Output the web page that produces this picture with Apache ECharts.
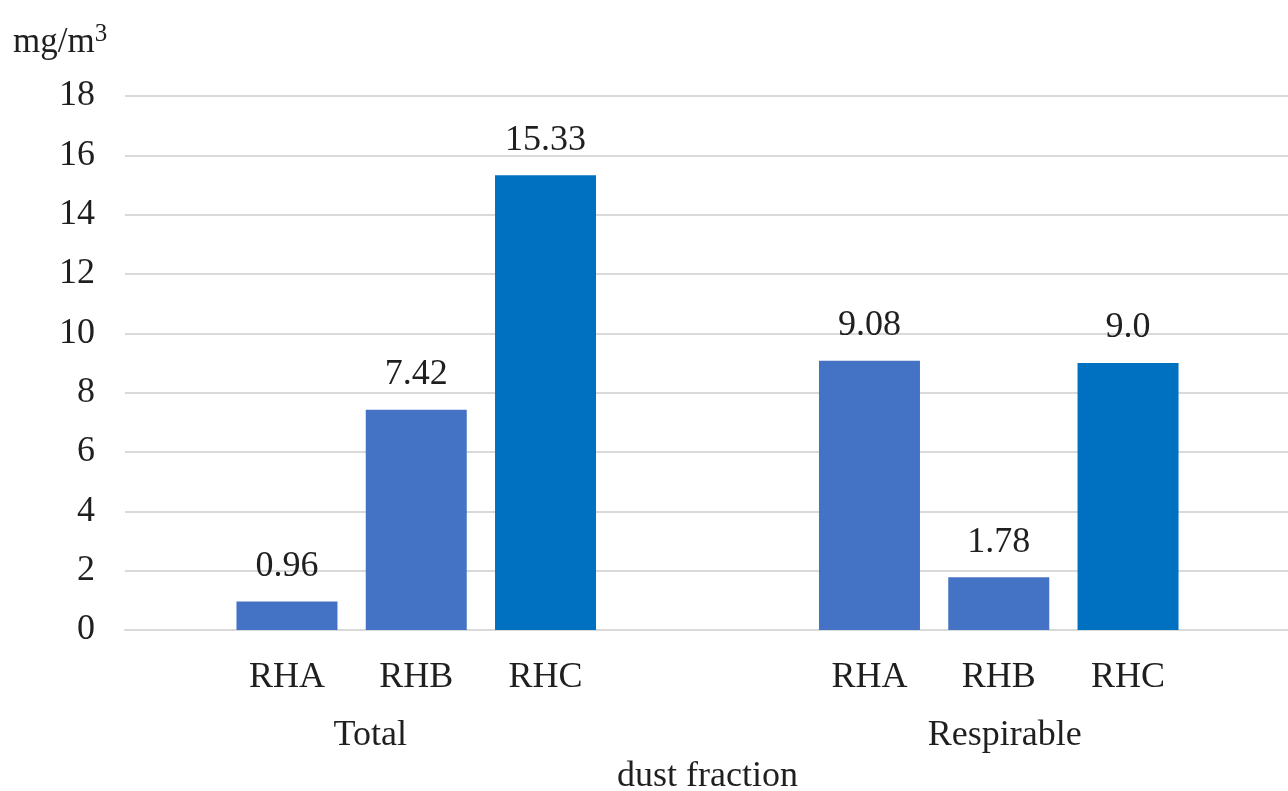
<!DOCTYPE html>
<html>
<head>
<meta charset="utf-8">
<script src="https://cdn.jsdelivr.net/npm/echarts@6/dist/echarts.min.js"></script>
<style>
  html, body { margin: 0; padding: 0; background: #fff; overflow: hidden; }
  #chart { width: 1288px; height: 791px; }
</style>
</head>
<body>
<div id="chart"></div>
<script>
// Dust concentration by fraction and sample
const fractions = ['Total', 'Respirable'];
const samples = ['RHA', 'RHB', 'RHC'];
const rhaValues = [0.96, 9.08];
const rhbValues = [7.42, 1.78];
const rhcValues = [15.33, 9.0];
const valueLabels = [['0.96', '9.08'], ['7.42', '1.78'], ['15.33', '9.0']];
const sampleColors = ['#4472C4', '#4472C4', '#0070C0'];
const yTicks = { min: 0, max: 18, interval: 2 };

const FONT = '"Liberation Serif", "Times New Roman", serif';
const TEXT = '#1f1f1f';
const FS = 36;
const seriesValues = [rhaValues, rhbValues, rhcValues];

const chart = echarts.init(document.getElementById('chart'));

const barSeries = samples.map((name, i) => ({
  name: name,
  type: 'bar',
  xAxisIndex: 0,
  barWidth: 101,
  barGap: '28%',
  data: seriesValues[i],
  itemStyle: { color: sampleColors[i] },
  label: {
    show: true,
    position: 'top',
    distance: 17,
    fontFamily: FONT,
    fontSize: FS,
    color: TEXT,
    formatter: p => valueLabels[i][p.dataIndex]
  }
}));

// transparent twins carrying the sample names under each bar
const nameSeries = samples.map((name, i) => ({
  name: name,
  type: 'bar',
  xAxisIndex: 1,
  barWidth: 101,
  barGap: '28%',
  silent: true,
  data: seriesValues[i],
  itemStyle: { color: 'rgba(0,0,0,0)' },
  label: {
    show: true,
    position: 'bottom',
    distance: 30,
    fontFamily: FONT,
    fontSize: FS,
    color: TEXT,
    formatter: '{a}'
  }
}));

chart.setOption({
  animation: false,
  backgroundColor: '#fff',
  title: {
    text: 'mg/m{sup|3}',
    left: 8,
    top: 17,
    textStyle: {
      fontFamily: FONT,
      fontSize: 35,
      fontWeight: 'normal',
      color: TEXT,
      rich: {
        sup: { fontFamily: FONT, fontSize: 25, color: TEXT, verticalAlign: 'top', padding: [0, 0, 16, 0] }
      }
    }
  },
  grid: { left: 125, right: -2, top: 96, bottom: 161, containLabel: false, outerBoundsMode: 'none' },
  xAxis: [
    {
      type: 'category',
      data: fractions,
      name: 'dust fraction',
      nameLocation: 'middle',
      nameGap: 129,
      nameTextStyle: { fontFamily: FONT, fontSize: FS, color: TEXT },
      axisLine: { lineStyle: { color: '#d9d9d9', width: 2 } },
      axisTick: { show: false },
      axisLabel: {
        margin: 88,
        fontFamily: FONT,
        fontSize: FS,
        color: TEXT,
        formatter: v => v === 'Total' ? '{t|' + v + '}' : '{r|' + v + '}',
        rich: {
          t: { fontFamily: FONT, fontSize: FS, color: TEXT, padding: [0, 92, 0, 0] },
          r: { fontFamily: FONT, fontSize: FS, color: TEXT, padding: [0, 0, 0, 12] }
        }
      }
    },
    {
      type: 'category',
      data: fractions,
      show: false
    }
  ],
  yAxis: {
    type: 'value',
    min: yTicks.min,
    max: yTicks.max,
    interval: yTicks.interval,
    axisLine: { show: false },
    axisTick: { show: false },
    axisLabel: { margin: 30, fontFamily: FONT, fontSize: FS, color: TEXT },
    splitLine: { lineStyle: { color: '#d9d9d9', width: 2 } }
  },
  series: barSeries.concat(nameSeries)
});
</script>
</body>
</html>
